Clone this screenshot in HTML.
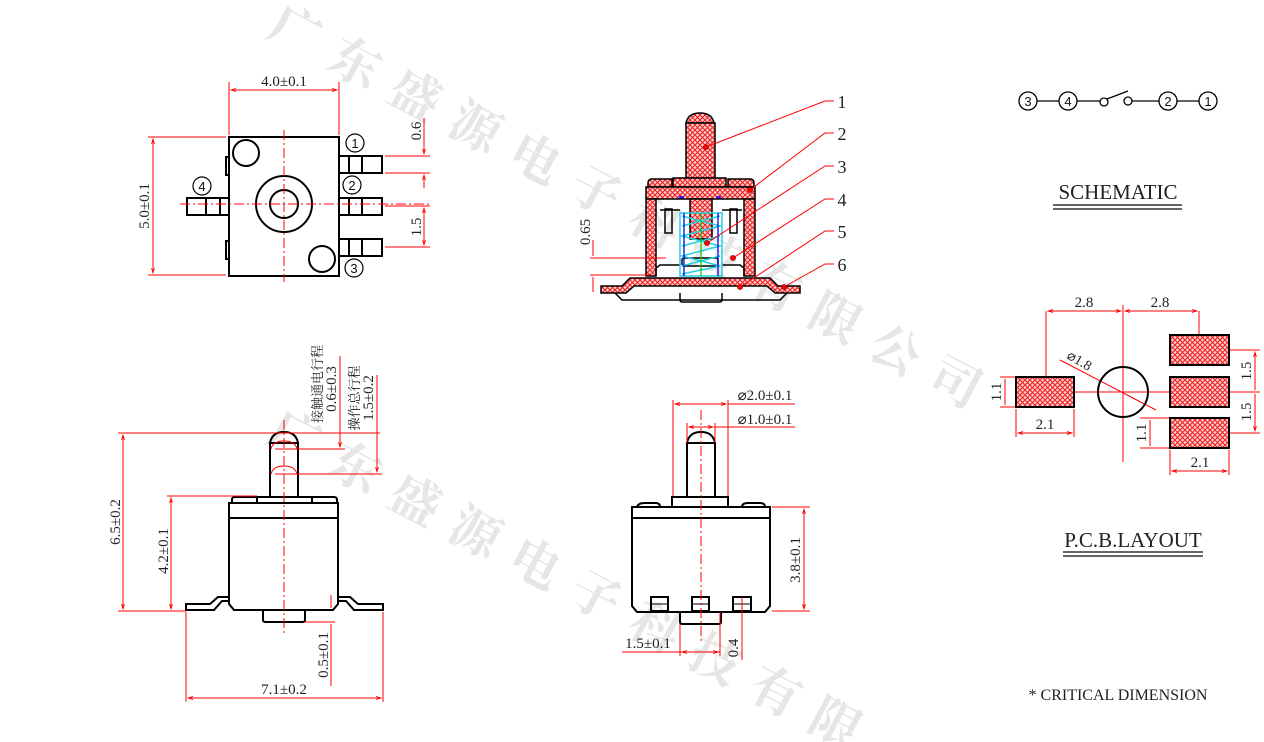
<!DOCTYPE html>
<html><head><meta charset="utf-8"><style>
html,body{margin:0;padding:0;background:#fff;width:1264px;height:742px;overflow:hidden;}
svg{display:block;overflow:hidden;}
text{font-family:"Liberation Serif","Noto Serif CJK SC",serif;}
</style></head><body>
<svg width="1264" height="742" viewBox="0 0 1264 742" xmlns="http://www.w3.org/2000/svg">
<defs>
<clipPath id="c"><rect width="1264" height="742"/></clipPath>
<pattern id="h" width="5" height="5" patternUnits="userSpaceOnUse">
<rect width="5" height="5" fill="#fbd0d0"/>
<path d="M0 0L5 5M5 0L0 5" stroke="#ee2020" stroke-width="1.1"/>
</pattern>
<marker id="a" viewBox="0 0 10 10" refX="10" refY="5" markerWidth="7" markerHeight="5" orient="auto-start-reverse"><path d="M0 2L10 5L0 8" fill="none" stroke="red" stroke-width="1.5"/></marker>
</defs>

<g clip-path="url(#c)">
<g fill="#e6e6e6" font-family="'Noto Sans CJK SC',sans-serif" font-size="50" font-weight="bold">
<text x="265" y="35" transform="rotate(28 265 35)" letter-spacing="18">广东盛源电子科技有限公司</text>
<text x="265" y="440" transform="rotate(28 265 440)" letter-spacing="18">广东盛源电子科技有限</text>
</g>
</g>

<g fill="none" stroke="#000" stroke-width="2">
<rect x="229" y="137" width="110" height="139"/>
<circle cx="284" cy="204" r="28"/><circle cx="284" cy="204" r="14"/>
<circle cx="246" cy="153" r="13"/><circle cx="322" cy="259" r="13"/>
<rect x="226" y="157" width="3" height="18"/><rect x="226" y="241" width="3" height="18"/>
<rect x="339" y="156" width="43" height="17"/><path d="M349 156V173M362 156V173"/>
<rect x="339" y="198" width="43" height="17"/><path d="M349 198V215M362 198V215"/>
<rect x="339" y="239" width="43" height="17"/><path d="M349 239V256M362 239V256"/>
<rect x="187" y="198" width="42" height="17"/><path d="M206 198V215M220 198V215"/>
<g stroke-width="1.2"><circle cx="355" cy="143" r="9"/><circle cx="352" cy="185" r="9"/><circle cx="354" cy="268" r="9"/><circle cx="202" cy="186" r="9"/></g>

<path d="M270 443Q272 432 284 432Q296 432 298 443Z"/>
<rect x="270" y="443" width="28" height="54"/>
<rect x="257" y="497" width="55" height="6"/>
<path d="M232 503V499Q232 497 236 497H257M312 497H334Q337 497 337 500V503"/>
<path d="M229 503H338V604L333 610H234L229 604Z"/>
<path d="M229 518H338"/>
<path d="M229 597H218L210 604H186V610H214L222 601H229"/>
<path d="M338 597H350L358 604H383V610H354L346 601H338"/>
<path d="M263 610V620Q263 622 266 622H302Q305 622 305 620V610"/>

<path d="M687 443Q689 432 701 432Q713 432 715 443Z"/>
<rect x="687" y="443" width="28" height="54"/>
<rect x="672" y="497" width="56" height="10"/>
<path d="M637 507Q638 503 645 503H656Q660 503 660 507M742 507Q742 503 748 503H760Q765 503 765 507"/>
<path d="M632 507H770V606L765 612H637L632 606Z"/>
<path d="M632 518H770"/>
<rect x="651" y="597" width="17" height="14"/><rect x="692" y="597" width="17" height="14"/><rect x="733" y="597" width="18" height="14"/>
<path d="M651 604H668M692 604H709M733 604H751" stroke-width="1"/>
<path d="M680 612V622Q680 624 683 624H718Q721 624 721 622V612"/>

<g stroke-width="1.3">
<circle cx="1028" cy="101" r="9"/><circle cx="1068" cy="101" r="9"/><circle cx="1168" cy="101" r="9"/><circle cx="1208" cy="101" r="9"/>
<circle cx="1104" cy="102" r="4"/><circle cx="1128" cy="101" r="4"/>
<path d="M1037 101H1059M1077 101H1100M1107 99L1128 91M1132 101H1159M1177 101H1199"/>
</g>
<path d="M1053 205H1182M1053 209H1182" stroke="#333" stroke-width="1.5"/>
<path d="M1063 552H1203M1063 556H1203" stroke="#333" stroke-width="1.5"/>
</g>

<g stroke="#000" stroke-width="1.5" fill="url(#h)">
<path d="M686 123Q688 113 700 113Q712 113 714 123Z"/>
<rect x="686" y="123" width="29" height="55"/>
<path d="M673 178H726V187H673Z"/>
<path d="M648 187V183Q648 179 652 179H672V187ZM728 187V179H750Q754 179 754 183V187Z"/>
<rect x="646" y="187" width="109" height="12"/>
<rect x="646" y="199" width="10" height="77"/><rect x="744" y="199" width="11" height="77"/>
<path d="M601 286H622L630 278H770L778 286H800V293H775L767 286H634L626 293H601Z"/>
<rect x="690" y="199" width="22" height="40"/>
</g>
<g fill="none" stroke="#000" stroke-width="1.5">
<path d="M665 209V233H672V209ZM730 209V233H737V209Z"/>
<path d="M660 210H680M722 210H742"/>
<path d="M656 276V268L660 265H680M744 276V268L740 265H722"/>
<path d="M615 293L622 300H780L787 293"/>
<path d="M680 293V300Q680 302 683 302H719Q722 302 722 300V293"/>
<rect x="682" y="258" width="36" height="8" rx="2"/>
</g>
<path d="M680 199V197H684M716 197H720V199" stroke="#00f" fill="none" stroke-width="1.5"/>
<g stroke="#22d0e0" stroke-width="1.5" fill="none">
<rect x="680" y="213" width="42" height="63"/>
<path d="M682 216L720 226L682 236L720 246L682 256L720 266L682 274"/>
<path d="M682 226L720 216M682 246L720 236M682 266L720 256"/>
</g>
<path d="M684 213V276M718 213V276" stroke="#00f" stroke-width="1.3"/>
<path d="M701 213V276" stroke="#0c0" stroke-width="1.2"/>

<g stroke="red" stroke-width="1" fill="none">
<path d="M706 147L825 101H834M750 190L825 133H834M707 243L825 166H834M733 258L825 199H834M740 287L825 231H834M784 287L825 264H834"/>
<path d="M284 130V282M180 204H430" stroke-dasharray="10 3 2 3"/>
<path d="M229 82V135M339 82V135"/>
<path d="M231 90H337" marker-start="url(#a)" marker-end="url(#a)"/>
<path d="M148 137H226M148 275H226"/>
<path d="M153 139V273" marker-start="url(#a)" marker-end="url(#a)"/>
<path d="M385 156H430M385 173H430M385 206H430M385 247H430"/>
<path d="M424 118V154" marker-end="url(#a)"/><path d="M424 188V175" marker-end="url(#a)"/>
<path d="M424 208V245" marker-start="url(#a)" marker-end="url(#a)"/>
<path d="M590 258H666M590 275H650M593 240V256M593 277V292"/>
<path d="M284 420V636" stroke-dasharray="10 3 2 3"/>
<path d="M118 433H380M118 611H186M167 496H257M275 449H345M275 474H382M340 356V447M377 375V472"/>
<path d="M123 435V609" marker-start="url(#a)" marker-end="url(#a)"/>
<path d="M171 498V609" marker-start="url(#a)" marker-end="url(#a)"/>
<path d="M340 435V447" marker-end="url(#a)"/>
<path d="M377 435V472" marker-end="url(#a)"/>
<path d="M271 449Q273 441 284 441Q295 441 297 449M271 474Q273 466 284 466Q295 466 297 474"/>
<path d="M186 612V702M383 612V702"/>
<path d="M188 698H381" marker-start="url(#a)" marker-end="url(#a)"/>
<path d="M305 622H335M331 595V608M331 624V686" />
<path d="M701 410V642" stroke-dasharray="10 3 2 3"/>
<path d="M673 400V496M728 400V496M687 423V443M715 423V443"/>
<path d="M675 404H726" marker-start="url(#a)" marker-end="url(#a)"/><path d="M728 404H795"/>
<path d="M689 427H713" marker-start="url(#a)" marker-end="url(#a)"/><path d="M715 427H795"/>
<path d="M772 507H810M772 611H810"/>
<path d="M804 509V609" marker-start="url(#a)" marker-end="url(#a)"/>
<path d="M680 624V656M720 612V656M742 597V660"/>
<path d="M622 652H720" /><path d="M682 652H718" marker-start="url(#a)" marker-end="url(#a)"/>
<path d="M1123 305V462M1074 392H1170M1046 311V377M1199 311V335M1016 409V437M1074 409V437M1170 450V475M1229 450V475M1060 360L1156 410"/>
<path d="M1048 311H1121" marker-start="url(#a)" marker-end="url(#a)"/>
<path d="M1125 311H1197" marker-start="url(#a)" marker-end="url(#a)"/>
<path d="M1000 377H1016M1000 407H1016M1005 379V405"/>
<path d="M1018 433H1072" marker-start="url(#a)" marker-end="url(#a)"/>
<path d="M1172 471H1227" marker-start="url(#a)" marker-end="url(#a)"/>
<path d="M1229 350H1260M1229 392H1260M1229 433H1260"/>
<path d="M1255 352V390M1255 394V431" marker-start="url(#a)" marker-end="url(#a)"/>
<path d="M1140 418H1170M1140 448H1170M1150 420V446"/>
</g>
<g fill="red" stroke="#900" stroke-width="0.8">
<circle cx="706" cy="147" r="2.5"/><circle cx="750" cy="190" r="2.5"/><circle cx="707" cy="243" r="2.5"/><circle cx="733" cy="258" r="2.5"/><circle cx="740" cy="287" r="2.5"/><circle cx="784" cy="287" r="2.5"/>
</g>
<g fill="url(#h)" stroke="#000" stroke-width="2">
<rect x="1016" y="377" width="58" height="30"/>
<rect x="1170" y="335" width="59" height="30"/><rect x="1170" y="377" width="59" height="30"/><rect x="1170" y="418" width="59" height="30"/>
</g>
<circle cx="1123" cy="392" r="25" fill="none" stroke="#000" stroke-width="2"/>

<g font-size="15" fill="#222">
<text x="284" y="86" text-anchor="middle">4.0±0.1</text>
<text transform="translate(149 206) rotate(-90)" text-anchor="middle">5.0±0.1</text>
<text transform="translate(421 131) rotate(-90)" text-anchor="middle">0.6</text>
<text transform="translate(421 227) rotate(-90)" text-anchor="middle">1.5</text>
<text transform="translate(590 232) rotate(-90)" text-anchor="middle">0.65</text>
<text transform="translate(120 522) rotate(-90)" text-anchor="middle">6.5±0.2</text>
<text transform="translate(168 551) rotate(-90)" text-anchor="middle">4.2±0.1</text>
<text x="284" y="694" text-anchor="middle">7.1±0.2</text>
<text transform="translate(328 655) rotate(-90)" text-anchor="middle">0.5±0.1</text>
<text transform="translate(336 389) rotate(-90)" text-anchor="middle">0.6±0.3</text>
<text transform="translate(373 398) rotate(-90)" text-anchor="middle">1.5±0.2</text>
<text transform="translate(322 384) rotate(-90)" text-anchor="middle" font-size="13">接触通电行程</text>
<text transform="translate(359 398) rotate(-90)" text-anchor="middle" font-size="13">操作总行程</text>
<text x="765" y="400" text-anchor="middle">⌀2.0±0.1</text>
<text x="765" y="424" text-anchor="middle">⌀1.0±0.1</text>
<text transform="translate(800 560) rotate(-90)" text-anchor="middle">3.8±0.1</text>
<text x="648" y="648" text-anchor="middle">1.5±0.1</text>
<text transform="translate(738 648) rotate(-90)" text-anchor="middle">0.4</text>
<text x="1084" y="307" text-anchor="middle">2.8</text>
<text x="1160" y="307" text-anchor="middle">2.8</text>
<text transform="translate(1066 358) rotate(30)" font-size="14">⌀1.8</text>
<text transform="translate(1001 392) rotate(-90)" text-anchor="middle">1.1</text>
<text x="1045" y="429" text-anchor="middle">2.1</text>
<text transform="translate(1146 433) rotate(-90)" text-anchor="middle">1.1</text>
<text x="1200" y="467" text-anchor="middle">2.1</text>
<text transform="translate(1251 371) rotate(-90)" text-anchor="middle">1.5</text>
<text transform="translate(1251 412) rotate(-90)" text-anchor="middle">1.5</text>
<text x="1118" y="700" text-anchor="middle" font-size="16">* CRITICAL  DIMENSION</text>
</g>
<g font-size="18" fill="#222">
<text x="842" y="108" text-anchor="middle">1</text><text x="842" y="140" text-anchor="middle">2</text><text x="842" y="173" text-anchor="middle">3</text>
<text x="842" y="206" text-anchor="middle">4</text><text x="842" y="238" text-anchor="middle">5</text><text x="842" y="271" text-anchor="middle">6</text>
<text x="1118" y="199" text-anchor="middle" font-size="21">SCHEMATIC</text>
<text x="1133" y="547" text-anchor="middle" font-size="21">P.C.B.LAYOUT</text>
</g>
<g font-size="13" fill="#111" text-anchor="middle">
<text x="355" y="148" style="font-family:'Liberation Sans',sans-serif">1</text><text x="352" y="190" style="font-family:'Liberation Sans',sans-serif">2</text>
<text x="354" y="273" style="font-family:'Liberation Sans',sans-serif">3</text><text x="202" y="191" style="font-family:'Liberation Sans',sans-serif">4</text>
<text x="1028" y="106" style="font-family:'Liberation Sans',sans-serif">3</text><text x="1068" y="106" style="font-family:'Liberation Sans',sans-serif">4</text>
<text x="1168" y="106" style="font-family:'Liberation Sans',sans-serif">2</text><text x="1208" y="106" style="font-family:'Liberation Sans',sans-serif">1</text>
</g>
</svg>
</body></html>
